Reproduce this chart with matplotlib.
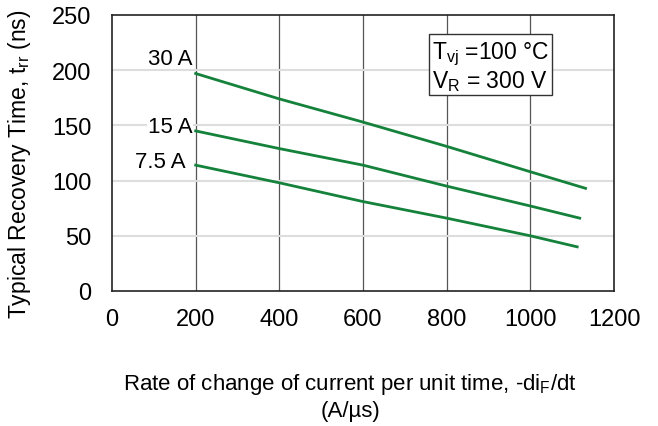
import matplotlib.pyplot as plt

plt.rcParams['font.family'] = ['Liberation Sans', 'DejaVu Sans']
plt.rcParams['mathtext.fontset'] = 'custom'
plt.rcParams['mathtext.rm'] = 'Liberation Sans'
plt.rcParams['mathtext.it'] = 'Liberation Sans'

# --- Data ---
didt = [200, 400, 600, 800, 1000]
trr_30a = [197, 174, 153, 131, 108]
trr_15a = [145, 129, 114, 95, 77]
trr_7a5 = [114, 98, 81, 66, 50]
end_x = [1132, 1118, 1112]
end_y = [93, 66, 40]
labels = ['30 A', '15 A', '7.5 A']

# label anchor points (right edge, vertical centre) in data units
label_x = [193, 193, 175]
label_y = [211, 149, 117]

green = '#15823c'

fig = plt.figure(figsize=(6.58, 4.27), dpi=100)
ax = fig.add_axes([112 / 658, 1 - 292 / 427, 502 / 658, 276 / 427])
ax.set_xlim(0, 1200)
ax.set_ylim(0, 250)
ax.set_xticks(range(0, 1201, 200))
ax.set_yticks(range(0, 251, 50))

# grid: dark verticals, light horizontals
for x in range(200, 1200, 200):
    ax.axvline(x, color='#555555', lw=0.9, zorder=1)
for y in range(50, 250, 50):
    ax.axhline(y, color='#dddddd', lw=1.5, zorder=1)

series = [trr_30a, trr_15a, trr_7a5]
for i, ys in enumerate(series):
    ax.plot(didt + [end_x[i]], ys + [end_y[i]], color=green, lw=2, zorder=3)
    ax.text(label_x[i], label_y[i], labels[i], ha='right', va='center', fontsize=16,
            bbox=dict(facecolor='white', edgecolor='none', pad=0.5), zorder=4)

ax.text(765, 228, '$\\mathregular{T_{vj}}$ =100 °C\n$\\mathregular{V_R}$ = 300 V', fontsize=16.5,
        ha='left', va='top', linespacing=1.05,
        bbox=dict(facecolor='white', edgecolor='#333333', lw=1, boxstyle='square,pad=0.12'), zorder=4)

ax.tick_params(length=0, labelsize=17)
ax.tick_params(axis='x', pad=12)
ax.tick_params(axis='y', pad=15)
for s in ax.spines.values():
    s.set_color('#222222')
    s.set_linewidth(1.2)

ax.set_ylabel('Typical Recovery Time, $\\mathregular{t_{rr}}$ (ns)', fontsize=16.5)
ax.yaxis.set_label_coords(-0.158, 0.464)
fig.text(350 / 658, 1 - 397 / 427,
         'Rate of change of current per unit time, -di$\\mathregular{_F}$/dt\n(A/µs)',
         ha='center', va='center', fontsize=16, linespacing=1.25)

fig.savefig('out.png', dpi=100)
